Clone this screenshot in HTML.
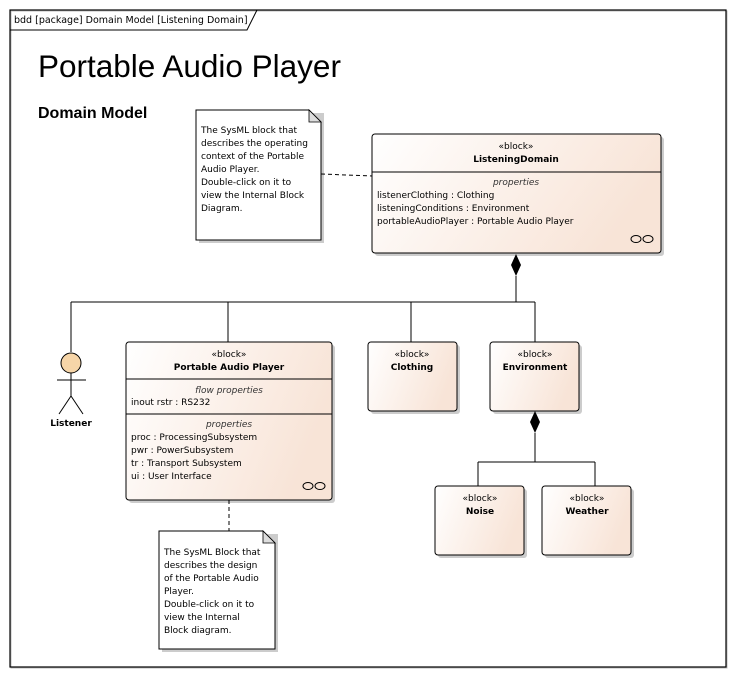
<!DOCTYPE html>
<html><head><meta charset="utf-8"><style>
html,body{margin:0;padding:0;background:#fff;}
svg{display:block;}
text{font-family:"DejaVu Sans","Liberation Sans",sans-serif;fill:#000;}
.s{font-size:9px;}
.b{font-size:9px;font-weight:bold;}
.i{font-size:9px;font-style:italic;fill:#333;}
</style></head><body>
<svg width="736" height="677" viewBox="0 0 736 677" xmlns="http://www.w3.org/2000/svg">
<defs>
<linearGradient id="g" x1="0" y1="0" x2="1" y2="0.3">
<stop offset="0" stop-color="#ffffff"/><stop offset="1" stop-color="#f8e4d7"/>
</linearGradient>
</defs>
<rect x="11" y="11" width="716" height="657" fill="none" stroke="#bbb" stroke-width="1"/>
<rect x="10" y="10" width="716" height="657" fill="none" stroke="#000" stroke-width="1.2"/>
<path d="M10 30 H247 L257 10" fill="none" stroke="#000" stroke-width="1"/>
<text x="14" y="23" style="font-size:9.5px">bdd [package] Domain Model [Listening Domain]</text>
<text x="38" y="77" style="font-family:'Liberation Sans',sans-serif;font-size:31.5px">Portable Audio Player</text>
<text x="38" y="118" style="font-family:'Liberation Sans',sans-serif;font-size:16px;font-weight:bold">Domain Model</text>

<path d="M199 113 H324 V243 H199 Z" fill="#ccc"/>
<path d="M196 110 H309 L321 122 V240 H196 Z" fill="#fff" stroke="#000"/>
<path d="M309 110 V122 H321 Z" fill="#ddd" stroke="#000" stroke-width="0.8"/>
<g class="s"><text x="201" y="133">The SysML block that</text><text x="201" y="146">describes the operating</text><text x="201" y="159">context of the Portable</text><text x="201" y="172">Audio Player.</text><text x="201" y="185">Double-click on it to</text><text x="201" y="198">view the Internal Block</text><text x="201" y="211">Diagram.</text></g>
<line x1="321" y1="174" x2="372" y2="176" stroke="#000" stroke-dasharray="4,3"/>

<rect x="375" y="137" width="289" height="119" rx="3" fill="#ccc"/>
<rect x="372" y="134" width="289" height="119" rx="3" fill="url(#g)" stroke="#000"/>
<line x1="372" y1="172" x2="661" y2="172" stroke="#000"/>
<text x="516" y="149" class="s" text-anchor="middle">«block»</text>
<text x="516" y="162" class="b" text-anchor="middle">ListeningDomain</text>
<text x="516" y="185" class="i" text-anchor="middle">properties</text>
<g class="s"><text x="377" y="198">listenerClothing : Clothing</text><text x="377" y="211">listeningConditions : Environment</text><text x="377" y="224">portableAudioPlayer : Portable Audio Player</text></g>
<g fill="none" stroke="#000"><ellipse cx="636" cy="239" rx="5" ry="3.5"/><ellipse cx="648" cy="239" rx="5" ry="3.5"/></g>

<path d="M516 254 L521 265 L516 276 L511 265 Z" fill="#000"/>
<g stroke="#000" fill="none">
<line x1="516" y1="276" x2="516" y2="302"/>
<line x1="71" y1="302" x2="535" y2="302"/>
<line x1="71" y1="302" x2="71" y2="352"/>
<line x1="228" y1="302" x2="228" y2="342"/>
<line x1="411" y1="302" x2="411" y2="342"/>
<line x1="535" y1="302" x2="535" y2="342"/>
</g>

<circle cx="71" cy="363" r="10" fill="#f6d5a8" stroke="#000"/>
<g stroke="#000"><line x1="57" y1="380" x2="86" y2="380"/><line x1="71" y1="373" x2="71" y2="396"/><line x1="71" y1="396" x2="59" y2="414"/><line x1="71" y1="396" x2="83" y2="414"/></g>
<text x="71" y="426" class="b" text-anchor="middle">Listener</text>

<rect x="129" y="345" width="206" height="158" rx="3" fill="#ccc"/>
<rect x="126" y="342" width="206" height="158" rx="3" fill="url(#g)" stroke="#000"/>
<line x1="126" y1="379" x2="332" y2="379" stroke="#000"/>
<line x1="126" y1="414" x2="332" y2="414" stroke="#000"/>
<text x="229" y="357" class="s" text-anchor="middle">«block»</text>
<text x="229" y="370" class="b" text-anchor="middle">Portable Audio Player</text>
<text x="229" y="393" class="i" text-anchor="middle">flow properties</text>
<text x="131" y="405" class="s">inout rstr : RS232</text>
<text x="229" y="427" class="i" text-anchor="middle">properties</text>
<g class="s"><text x="131" y="440">proc : ProcessingSubsystem</text><text x="131" y="453">pwr : PowerSubsystem</text><text x="131" y="466">tr : Transport Subsystem</text><text x="131" y="479">ui : User Interface</text></g>
<g fill="none" stroke="#000"><ellipse cx="308" cy="486" rx="5" ry="3.5"/><ellipse cx="320" cy="486" rx="5" ry="3.5"/></g>
<line x1="229" y1="500" x2="229" y2="531" stroke="#000" stroke-dasharray="4,3"/>

<path d="M162 534 H278 V652 H162 Z" fill="#ccc"/>
<path d="M159 531 H263 L275 543 V649 H159 Z" fill="#fff" stroke="#000"/>
<path d="M263 531 V543 H275 Z" fill="#ddd" stroke="#000" stroke-width="0.8"/>
<g class="s"><text x="164" y="555">The SysML Block that</text><text x="164" y="568">describes the design</text><text x="164" y="581">of the Portable Audio</text><text x="164" y="594">Player.</text><text x="164" y="607">Double-click on it to</text><text x="164" y="620">view the Internal</text><text x="164" y="633">Block diagram.</text></g>

<rect x="371" y="345" width="89" height="69" rx="3" fill="#ccc"/>
<rect x="368" y="342" width="89" height="69" rx="3" fill="url(#g)" stroke="#000"/>
<text x="412" y="357" class="s" text-anchor="middle">«block»</text>
<text x="412" y="370" class="b" text-anchor="middle">Clothing</text>
<rect x="493" y="345" width="89" height="69" rx="3" fill="#ccc"/>
<rect x="490" y="342" width="89" height="69" rx="3" fill="url(#g)" stroke="#000"/>
<text x="535" y="357" class="s" text-anchor="middle">«block»</text>
<text x="535" y="370" class="b" text-anchor="middle">Environment</text>

<path d="M535 411 L540 422 L535 433 L530 422 Z" fill="#000"/>
<g stroke="#000" fill="none">
<line x1="535" y1="433" x2="535" y2="462"/>
<line x1="478" y1="462" x2="595" y2="462"/>
<line x1="478" y1="462" x2="478" y2="486"/>
<line x1="595" y1="462" x2="595" y2="486"/>
</g>

<rect x="438" y="489" width="89" height="69" rx="3" fill="#ccc"/>
<rect x="435" y="486" width="89" height="69" rx="3" fill="url(#g)" stroke="#000"/>
<text x="480" y="501" class="s" text-anchor="middle">«block»</text>
<text x="480" y="514" class="b" text-anchor="middle">Noise</text>
<rect x="545" y="489" width="89" height="69" rx="3" fill="#ccc"/>
<rect x="542" y="486" width="89" height="69" rx="3" fill="url(#g)" stroke="#000"/>
<text x="587" y="501" class="s" text-anchor="middle">«block»</text>
<text x="587" y="514" class="b" text-anchor="middle">Weather</text>
</svg>
</body></html>
